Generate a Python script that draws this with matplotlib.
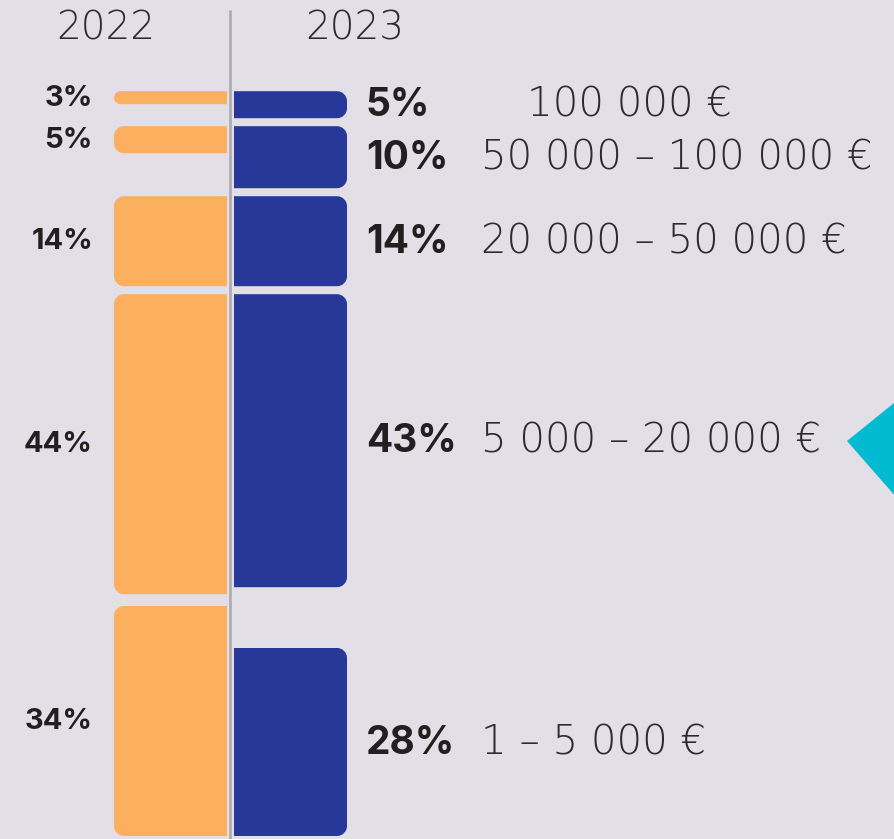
import matplotlib
matplotlib.use('Agg')
import matplotlib.pyplot as plt
from matplotlib.path import Path
from matplotlib.patches import PathPatch, Polygon
from matplotlib.transforms import blended_transform_factory

# ---- data (bottom row first) ----
ranges = ['1 – 5 000 €', '5 000 – 20 000 €', '20 000 – 50 000 €',
          '50 000 – 100 000 €', '100 000 €']
years = ['2022', '2023']
share_2022 = [34, 44, 14, 5, 3]
share_2023 = [28, 43, 14, 10, 5]

# ---- style ----
BG = '#E2DFE6'
ORANGE = '#FBAF5F'
BLUE = '#283898'
CYAN = '#00BAD1'
LINE = '#A9A8AE'
TXT = '#231F20'
TXT2 = '#2E2B2E'

W, H = 895, 839
fig = plt.figure(figsize=(W / 100, H / 100), dpi=100)
fig.patch.set_facecolor(BG)
ax = fig.add_axes([0, 0, 1, 1])
ax.set_facecolor(BG)
PXU = 7.0  # pixels per percentage point
ax.set_xlim(0, W)
ax.set_ylim(-3 / PXU, (H - 3) / PXU)
ax.axis('off')

GAP = 8 / PXU
TOPGAP = 0.6
R = 10  # corner radius in px


def rounded(x0, x1, y0, y1, side, color):
    rx = R
    ry = R / PXU
    h = y1 - y0
    if ry > h / 2:
        ry = h / 2
        rx = ry * PXU
    k = 0.5523
    if side == 'left':
        verts = [(x1, y0), (x1, y1), (x0 + rx, y1),
                 (x0 + rx - k * rx, y1), (x0, y1 - ry + k * ry), (x0, y1 - ry),
                 (x0, y0 + ry),
                 (x0, y0 + ry - k * ry), (x0 + rx - k * rx, y0), (x0 + rx, y0),
                 (x1, y0)]
    else:
        verts = [(x0, y0), (x0, y1), (x1 - rx, y1),
                 (x1 - rx + k * rx, y1), (x1, y1 - ry + k * ry), (x1, y1 - ry),
                 (x1, y0 + ry),
                 (x1, y0 + ry - k * ry), (x1 - rx + k * rx, y0), (x1 - rx, y0),
                 (x0, y0)]
    codes = [Path.MOVETO, Path.LINETO, Path.LINETO,
             Path.CURVE4, Path.CURVE4, Path.CURVE4,
             Path.LINETO,
             Path.CURVE4, Path.CURVE4, Path.CURVE4,
             Path.CLOSEPOLY]
    ax.add_patch(PathPatch(Path(verts, codes), facecolor=color,
                           edgecolor='none', zorder=2))


cols = [(114, 227, share_2022, ORANGE, 'left'),
        (234, 347, share_2023, BLUE, 'right')]

# row layout: each row is as tall as the larger of the two years
row_h = [max(a, b) for a, b in zip(share_2022, share_2023)]
row_top = []
acc = 0
for h in row_h:
    acc += h
    row_top.append(acc)

centers = {0: [], 1: []}
for ci, (x0, x1, vals, color, side) in enumerate(cols):
    for i, v in enumerate(vals):
        hgt = v - GAP
        if i == 0:
            y0, y1 = 0, hgt
        else:
            y1 = row_top[i] - TOPGAP
            y0 = y1 - hgt
        rounded(x0, x1, y0, y1, side, color)
        centers[ci].append((y0 + y1) / 2)

# divider line
ax.plot([230.5, 230.5], [-1, (H - 13) / PXU], color=LINE, lw=1.8, zorder=3,
        solid_capstyle='butt')

light = dict(family='DejaVu Sans', weight=200)
bold = dict(family='Inter', weight='bold')

# year headers
bt = blended_transform_factory(ax.transData, ax.transAxes)
ax.text(106, 1 - 28 / H, years[0], transform=bt, ha='center', va='center',
        fontsize=28, color=TXT2, **light)
ax.text(355, 1 - 28 / H, years[1], transform=bt, ha='center', va='center',
        fontsize=28, color=TXT2, **light)

# 2022 labels
for v, c in zip(share_2022, centers[0]):
    ax.text(93, c - 0.1, f'{v}%', ha='right', va='center', fontsize=21,
            color=TXT, **bold)

# 2023 labels + ranges
for i, (v, c, r) in enumerate(zip(share_2023, centers[1], ranges)):
    ax.text(366, c - 0.15, f'{v}%', ha='left', va='center', fontsize=28,
            color=TXT, **bold)
    xr = 527 if i == len(ranges) - 1 else 481
    ax.text(xr, c - 0.1, r, ha='left', va='center', fontsize=29,
            color=TXT2, **light)

# cyan pointer
tri = Polygon([(847 / W, 1 - 441 / H), (1.01, 1 - 395 / H),
               (1.01, 1 - 506 / H)], closed=True,
              transform=ax.transAxes, facecolor=CYAN, edgecolor='none',
              zorder=2, clip_on=False)
ax.add_patch(tri)

fig.savefig('out.png', dpi=100, facecolor=BG)
